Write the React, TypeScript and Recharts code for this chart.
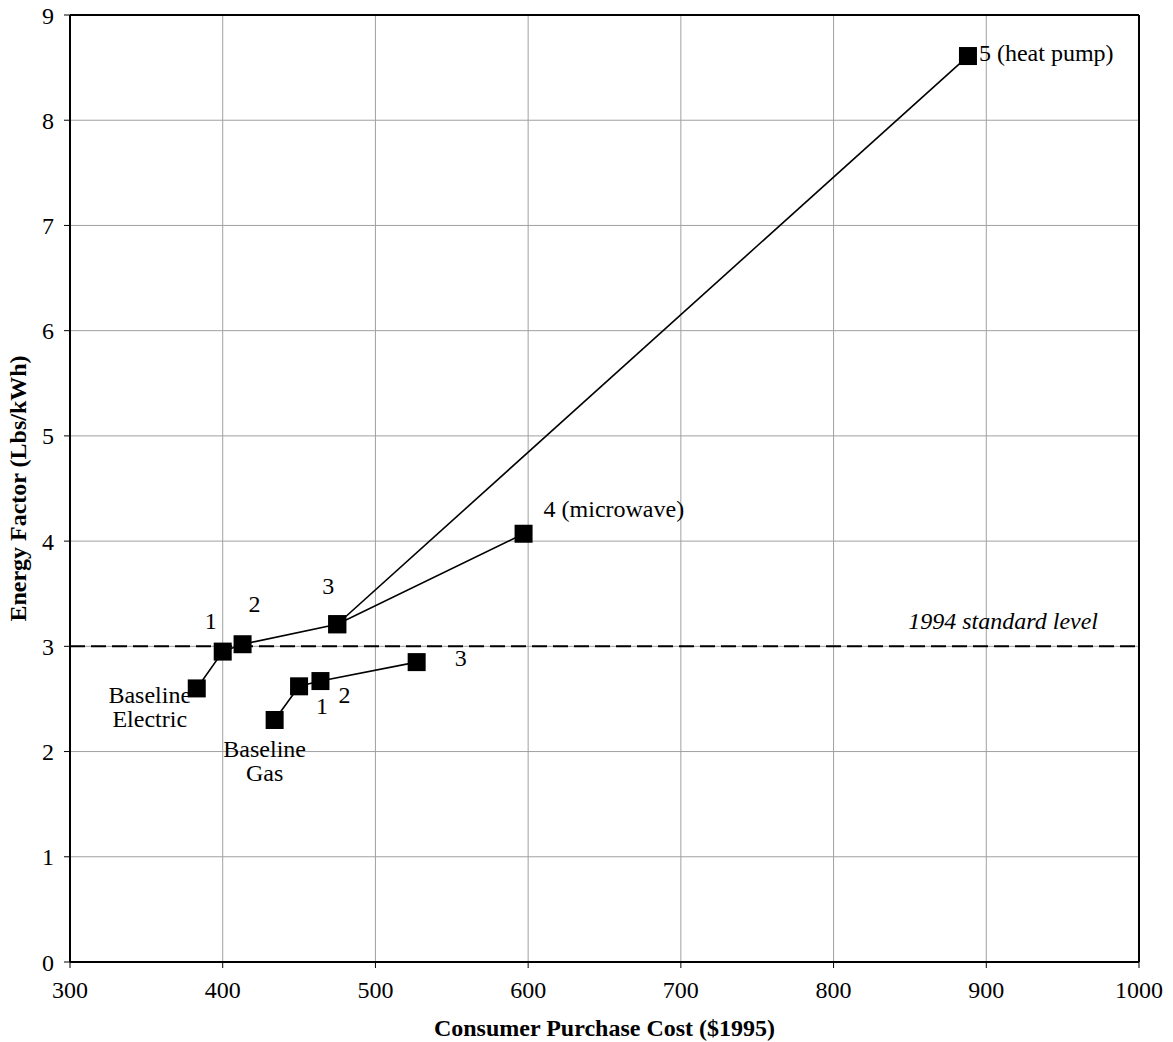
import type { FC } from "react"
import {
  CartesianGrid,
  ReferenceDot,
  ReferenceLine,
  Scatter,
  ScatterChart,
  XAxis,
  YAxis,
} from "recharts"

// values
const electricCost = [383, 400, 413, 475, 597]
const electricEF = [2.6, 2.95, 3.02, 3.21, 4.07]
const heatPumpCost = [475, 888]
const heatPumpEF = [3.21, 8.61]
const gasCost = [434, 450, 464, 527]
const gasEF = [2.3, 2.62, 2.67, 2.85]

const xTicks = [300, 400, 500, 600, 700, 800, 900, 1000]
const yTicks = [0, 1, 2, 3, 4, 5, 6, 7, 8, 9]
const standardLevel = 3

const xTitle = "Consumer Purchase Cost ($1995)"
const yTitle = "Energy Factor (Lbs/kWh)"
const standardLabel = "1994 standard level"

const electricLabels = [["Baseline", "Electric"], ["1"], ["2"], ["3"], ["4 (microwave)"]]
const heatPumpLabel = "5 (heat pump)"
const gasLabels = [["Baseline", "Gas"], ["1"], ["2"], ["3"]]

const toPoints = (xs: number[], ys: number[]) => xs.map((x, i) => ({ x, y: ys[i] }))

const electric = toPoints(electricCost, electricEF)
const heatPump = toPoints(heatPumpCost, heatPumpEF)
const gas = toPoints(gasCost, gasEF)

const FONT = "'Liberation Serif', 'Times New Roman', serif"
const FS = 24
const LINE_GAP = 24

// pixel offsets of each label from its point
type Note = { x: number; y: number; lines: string[]; dx: number; dy: number; anchor: "start" | "middle" | "end"; italic?: boolean }
const electricOffsets: [number, number, "start" | "middle"][] = [
  [-47, 15, "middle"],
  [-12, -23, "middle"],
  [12, -32, "middle"],
  [-9, -30, "middle"],
  [20, -17, "start"],
]
const gasOffsets: [number, number, "start" | "middle"][] = [
  [-10, 37, "middle"],
  [23, 28, "middle"],
  [24, 22, "middle"],
  [44, 4, "middle"],
]

const notes: Note[] = [
  ...electric.map((p, i) => ({
    ...p,
    lines: electricLabels[i],
    dx: electricOffsets[i][0],
    dy: electricOffsets[i][1],
    anchor: electricOffsets[i][2],
  })),
  ...gas.map((p, i) => ({
    ...p,
    lines: gasLabels[i],
    dx: gasOffsets[i][0],
    dy: gasOffsets[i][1],
    anchor: gasOffsets[i][2],
  })),
  { ...heatPump[1], lines: [heatPumpLabel], dx: 11, dy: 5, anchor: "start" },
  { x: 1000, y: standardLevel, lines: [standardLabel], dx: -41, dy: -17, anchor: "end", italic: true },
]

const Square = (props: any) => {
  const { cx, cy } = props
  if (cx == null || cy == null) return null
  return <rect x={cx - 9} y={cy - 9} width={18} height={18} fill="#000" />
}

const line = { stroke: "#000", strokeWidth: 1.6 }

const App: FC = () => (
  <div style={{ position: "absolute", left: 0, top: 0, background: "#fff" }}>
    <ScatterChart
      width={1173}
      height={1042}
      margin={{ top: 15, right: 34, left: 0, bottom: 0 }}
      style={{ fontFamily: FONT }}
    >
      <CartesianGrid stroke="#a0a0a0" strokeWidth={1} />
      <XAxis
        type="number"
        dataKey="x"
        domain={[300, 1000]}
        ticks={xTicks}
        interval={0}
        height={80}
        axisLine={{ stroke: "#000", strokeWidth: 2 }}
        tickLine={{ stroke: "#000" }}
        tickSize={6}
        tickMargin={13}
        tick={{ fill: "#000", fontSize: FS, fontFamily: FONT }}
        label={{
          content: (p: any) => {
            const vb = p.viewBox
            return (
              <text
                x={vb.x + vb.width / 2}
                y={1036}
                textAnchor="middle"
                fontFamily={FONT}
                fontSize={FS}
                fontWeight="bold"
                fill="#000"
              >
                {xTitle}
              </text>
            )
          },
        }}
      />
      <YAxis
        type="number"
        dataKey="y"
        domain={[0, 9]}
        ticks={yTicks}
        interval={0}
        width={70}
        axisLine={{ stroke: "#000", strokeWidth: 2 }}
        tickLine={{ stroke: "#000" }}
        tickSize={6}
        tickMargin={10}
        tick={{ fill: "#000", fontSize: FS, fontFamily: FONT }}
        label={{
          content: (p: any) => {
            const vb = p.viewBox
            const cy = vb.y + vb.height / 2
            return (
              <text
                x={18}
                y={cy}
                transform={`rotate(-90, 18, ${cy})`}
                textAnchor="middle"
                dominantBaseline="central"
                fontFamily={FONT}
                fontSize={FS}
                fontWeight="bold"
                fill="#000"
              >
                {yTitle}
              </text>
            )
          },
        }}
      />
      <ReferenceLine y={9} stroke="#000" strokeWidth={2} />
      <ReferenceLine x={1000} stroke="#000" strokeWidth={2} />
      <ReferenceLine y={standardLevel} stroke="#000" strokeWidth={2} strokeDasharray="15 6" />
      <Scatter data={heatPump} line={line} shape={Square} isAnimationActive={false} />
      <Scatter data={electric} line={line} shape={Square} isAnimationActive={false} />
      <Scatter data={gas} line={line} shape={Square} isAnimationActive={false} />
      {notes.map((n, i) =>
        n.lines.map((t, j) => (
          <ReferenceDot
            key={`${i}-${j}`}
            x={n.x}
            y={n.y}
            r={0}
            ifOverflow="visible"
            shape={(p: any) => (
              <text
                x={p.cx + n.dx}
                y={p.cy + n.dy + j * LINE_GAP}
                textAnchor={n.anchor}
                fontFamily={FONT}
                fontSize={FS}
                fontStyle={n.italic ? "italic" : "normal"}
                fill="#000"
              >
                {t}
              </text>
            )}
          />
        ))
      )}
    </ScatterChart>
  </div>
)

export default App
